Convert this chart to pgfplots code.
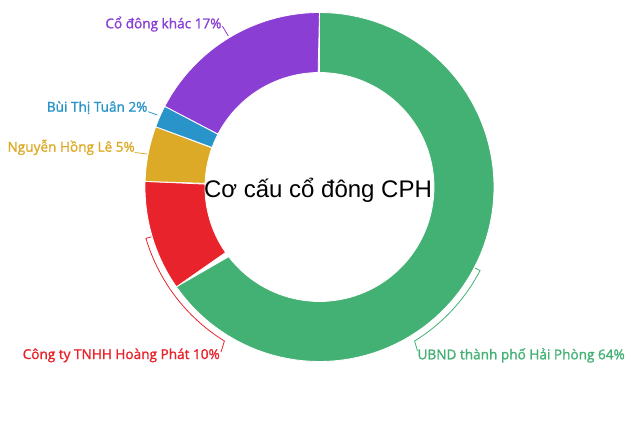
\documentclass[border=0pt]{standalone}
\usepackage{fontspec}
\setmainfont{Liberation Sans}
\newfontfamily\labelfont{Open Sans}[FakeBold=1.4]
\usepackage{pgfplots}
\pgfplotsset{compat=1.18}

\definecolor{cGreen}{RGB}{67,176,116}
\definecolor{cRed}{RGB}{232,35,43}
\definecolor{cYellow}{RGB}{221,170,40}
\definecolor{cBlue}{RGB}{40,148,202}
\definecolor{cPurple}{RGB}{138,62,212}

\tikzset{lbl/.style={inner sep=0pt, font=\labelfont\fontsize{10.2}{12}\selectfont}}

% outer and inner radius of the ring (1 unit = 1 px)
\def\Rout{174.5}
\def\Rin{114.5}

% annular sector from angle #1 to angle #2
\newcommand{\sector}[3]{%
  \addplot[fill=#3, draw=white, line width=0.6pt, domain=0:2, samples=181, variable=\t]
    ({((\t<=1) ? \Rout : \Rin)*cos(((\t<=1) ? (#1+\t*(#2-#1)) : (#2-(\t-1)*(#2-#1))))},
     {((\t<=1) ? \Rout : \Rin)*sin(((\t<=1) ? (#1+\t*(#2-#1)) : (#2-(\t-1)*(#2-#1))))}) -- cycle;
}

\begin{document}
\begin{tikzpicture}
% shares in percent: UBND 64, Hoang Phat 10, Nguyen Hong Le 5, Bui Thi Tuan 2, khac 17
\pgfmathsetmacro{\tot}{64+10+5+2+17}
\pgfmathsetmacro{\aA}{90}
\pgfmathsetmacro{\aB}{\aA-64/\tot*360}
\pgfmathsetmacro{\aC}{\aB-10/\tot*360}
\pgfmathsetmacro{\aD}{\aC-5/\tot*360}
\pgfmathsetmacro{\aE}{\aD-2/\tot*360}
\pgfmathsetmacro{\aF}{\aE-17/\tot*360}
\begin{axis}[
  scale only axis,
  width=475.5pt, height=316.5pt,
  xmin=-319.5, xmax=314.5,
  ymin=-235, ymax=187,
  hide axis,
  clip=false
]
\path (rel axis cs:0,0) rectangle (rel axis cs:1,1);

\sector{\aA}{\aB}{cGreen}
\sector{\aB}{\aC}{cRed}
\sector{\aC}{\aD}{cYellow}
\sector{\aD}{\aE}{cBlue}
\sector{\aE}{\aF}{cPurple}

% connectors
\draw[cGreen, line width=0.6pt] (axis cs:{175.5*cos(-27.5)},{175.5*sin(-27.5)})
  -- (axis cs:{181*cos(-27.5)},{181*sin(-27.5)})
  arc[start angle=-27.5, end angle=-58.3, radius=135.75pt]
  -- (axis cs:98,-164);
\draw[cRed, line width=0.6pt] (axis cs:{175.5*cos(196.5)},{175.5*sin(196.5)})
  -- (axis cs:{181*cos(196.5)},{181*sin(196.5)})
  arc[start angle=196.5, end angle=238.3, radius=135.75pt]
  -- (axis cs:-98.5,-165);
\draw[cPurple, line width=0.6pt] (axis cs:-91.2,151) -- (axis cs:-97.2,161);
\draw[cBlue, line width=0.6pt] (axis cs:-162.2,72) -- (axis cs:-171.2,75.3);
\draw[cYellow, line width=0.6pt] (axis cs:-172.5,33) -- (axis cs:-184.5,34.5);

% labels
\node[lbl, anchor=base east, text=cRed] at (axis cs:-99.5,-172) {Công ty TNHH Hoàng Phát 10\%};
\node[lbl, anchor=base west, text=cGreen] at (axis cs:97.8,-172.3) {UBND thành phố Hải Phòng 64\%};
\node[lbl, anchor=base east, text=cPurple] at (axis cs:-97.8,158.7) {Cổ đông khác 17\%};
\node[lbl, anchor=base east, text=cBlue] at (axis cs:-171.8,75.3) {Bùi Thị Tuân 2\%};
\node[lbl, anchor=base east, text=cYellow] at (axis cs:-184.5,35.3) {Nguyễn Hồng Lê 5\%};

% title in the middle
\node[anchor=base, inner sep=0pt, font=\rmfamily\fontsize{18}{21}\selectfont] at (axis cs:-1.5,-10.7) {Cơ cấu cổ đông CPH};
\end{axis}
\end{tikzpicture}
\end{document}
